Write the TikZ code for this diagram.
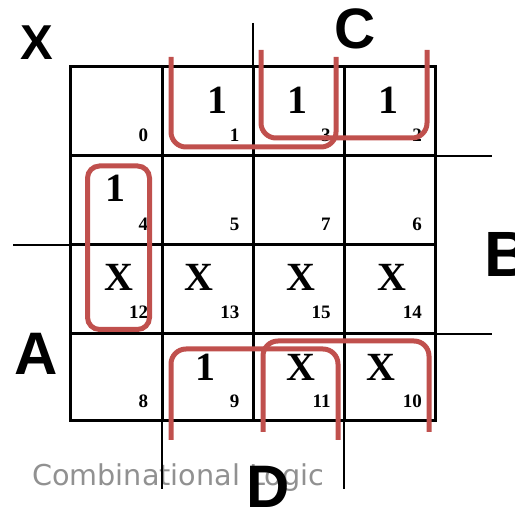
\documentclass[tikz,border=0pt]{standalone}
\usepackage{fontspec}
\usepackage{tikz}
\usetikzlibrary{positioning}
\setmainfont{Liberation Serif}
\newfontfamily\varfont{Liberation Sans}
\newfontfamily\capfont{DejaVu Sans}
\definecolor{loopred}{RGB}{192,80,77}
\definecolor{capgray}{RGB}{145,145,145}
\tikzset{
  cellln/.style={line width=3pt},
  extln/.style={line width=2.2pt},
  grp/.style={draw=loopred,line width=5pt,rounded corners=15pt},
  val/.style={inner sep=0pt,font=\fontsize{40}{40}\selectfont\bfseries},
  idx/.style={inner sep=0pt,anchor=east,font=\fontsize{19}{19}\selectfont\bfseries},
  var/.style={inner sep=0pt,font=\varfont\bfseries},
}

\begin{document}
\begin{tikzpicture}[x=1pt,y=-1pt]
  \useasboundingbox (0,0) rectangle (515,510);
  % caption under the map
  \node[anchor=base west,inner sep=0pt,text=capgray,font=\capfont\fontsize{28.7}{28.7}\selectfont] (cap) at (32,486) {Combinational Logic};
  % grid
  \draw[cellln] (70,67) rectangle (435,421);
  \foreach \x in {162,253,344} \draw[cellln] (\x,67) -- (\x,421);
  \foreach \y in {156,245,334} \draw[cellln] (70,\y) -- (435,\y);
  % variable bars
  \draw[extln] (253,23) -- (253,67);
  \draw[extln] (435,156) -- (492,156);
  \draw[extln] (435,334) -- (492,334);
  \draw[extln] (13,245) -- (70,245);
  \draw[extln] (162,421) -- (162,489);
  \draw[extln] (344,421) -- (344,489);
  % minterm numbers
  \foreach \n/\c/\r in {0/0/0,1/1/0,3/2/0,2/3/0,4/0/1,5/1/1,7/2/1,6/3/1,
                        12/0/2,13/1/2,15/2/2,14/3/2,8/0/3,9/1/3,11/2/3,10/3/3}
    \node[idx] (n\n) at ({70+91.25*(\c+1)-13},{67+88.5*(\r+1)-20}) {\n};
  % cell values
  \foreach \n/\v/\x/\y in {1/1/217/100,3/1/297/100,2/1/388/100,4/1/115/188,
                           12/X/119/277,13/X/199/277,15/X/301/277,14/X/392/277,
                           9/1/205/367,11/X/301/367,10/X/381/367}
    \node[val] (v\n) at (\x,\y) {\v};
  % groups
  \draw[grp] (171,57) -- (171,147) -- (336,147) -- (336,57);
  \draw[grp] (261,50) -- (261,138) -- (427,138) -- (427,50);
  \draw[grp] (171,440) -- (171,349) -- (338,349) -- (338,440);
  \draw[grp] (263,432) -- (263,341) -- (429,341) -- (429,432);
  \draw[grp,rounded corners=12pt] (87.5,166) rectangle (149.5,329.5);
  % variable names
  \node[var,font=\varfont\bfseries\fontsize{49}{49}\selectfont] (vX) at (37,43) {X};
  \node[var,font=\varfont\bfseries\fontsize{57}{57}\selectfont] (vC) at (355,29) {C};
  \node[var,font=\varfont\bfseries\fontsize{64}{64}\selectfont] (vB) at (508,254) {B};
  \node[var,font=\varfont\bfseries\fontsize{60}{60}\selectfont] (vA) at (36,354) {A};
  \node[var,font=\varfont\bfseries\fontsize{60}{60}\selectfont] (vD) at (268,487) {D};
\end{tikzpicture}
\end{document}
